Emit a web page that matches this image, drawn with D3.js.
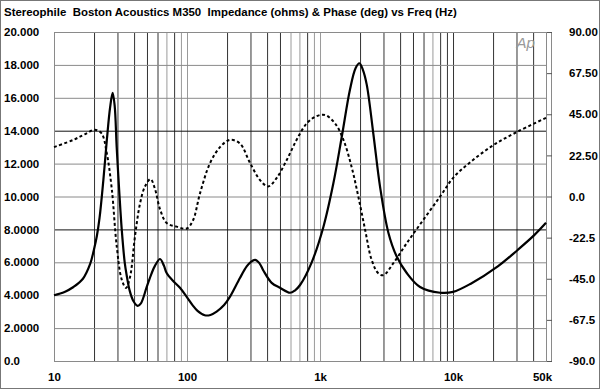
<!DOCTYPE html>
<html>
<head>
<meta charset="utf-8">
<script src="https://cdn.jsdelivr.net/npm/d3@7"></script>
<style>
  body { margin: 0; background: #fff; }
  text { font-family: "Liberation Sans", Arial, sans-serif; font-weight: bold; fill: #000; }
</style>
</head>
<body>
<svg id="chart" width="600" height="389"></svg>
<script>
// impedance magnitude (ohms) vs frequency (Hz)
const zFreqs = [10, 12, 14, 16.5, 18.7, 20, 21, 22, 23.5, 25, 26.4, 27.6, 28.6, 29.6, 31, 32.3, 34, 35.2, 37, 39.5, 42.6,
    45, 49.8, 54, 57.5, 62.7, 67, 70.3, 78.9, 88.5, 99.5, 110, 120, 136, 150, 167, 190, 210, 250, 281, 300,
    325, 350, 375, 433, 500, 595, 650, 708, 866, 1060, 1260, 1455, 1680, 1850, 1977, 2100, 2245, 2518, 2826, 3265,
    3773, 4487, 5650, 8000, 10000, 13600, 21700, 30600, 40800, 50000];
const impedance = [4.0, 4.2, 4.5, 5.0, 5.9, 6.8, 7.6, 8.7, 11, 13.5, 15.4, 16.3, 15.5, 13.0, 10.2, 8.0, 6.0, 5.2, 4.3, 3.65, 3.35,
    3.5, 4.5, 5.3, 5.8, 6.2, 5.8, 5.35, 4.85, 4.45, 3.9, 3.4, 3.05, 2.78, 2.8, 3.0, 3.4, 3.9, 5.05, 5.75, 6.0,
    6.15, 5.95, 5.5, 4.75, 4.45, 4.15, 4.3, 4.62, 6.0, 8.15, 10.8, 13.6, 16.5, 17.8, 18.1, 17.7, 16.8, 13.8, 10.6, 7.8,
    6.35, 5.35, 4.5, 4.15, 4.2, 4.7, 5.75, 6.75, 7.65, 8.4];

// phase (deg) vs frequency (Hz)
const pFreqs = [10, 14, 17, 20.3, 22.8, 24.9, 27.2, 29.6, 32.3, 34.8, 37.3, 40.6, 44.3, 48.3, 53.2, 57.5, 62.7, 70.3, 83.6, 99.5,
    111, 125, 148.5, 177, 210, 250, 297, 354, 408, 471, 562, 667, 795, 944, 1090, 1297, 1500, 1730, 1940, 2180,
    2440, 2740, 3000, 3560, 4490, 5950, 8000, 10100, 13600, 20000, 30600, 50000];
const phase = [27, 31, 34, 36.5, 34.5, 24, 4, -27, -45.5, -50, -44, -22, -4, 5.5, 9.5, 4, -7, -14.5, -16.5, -17.5,
    -13, 1.5, 18, 27, 31, 29, 18.5, 9, 5.5, 10, 20, 31, 40, 44, 44.6, 40, 31, 16, 0, -18,
    -34.5, -42, -43, -36.5, -25.5, -13, 0, 10.5, 19, 28, 35.5, 43];

const zTicks = [0, 2, 4, 6, 8, 10, 12, 14, 16, 18, 20];
const zTickLabels = ['0.0', '2.0000', '4.0000', '6.0000', '8.0000', '10.000', '12.000', '14.000', '16.000', '18.000', '20.000'];
const pTicks = [-90, -67.5, -45, -22.5, 0, 22.5, 45, 67.5, 90];
const pTickLabels = ['-90.0', '-67.5', '-45.0', '-22.5', '0.0', '22.50', '45.00', '67.50', '90.00'];
const fTicks = [10, 100, 1000, 10000, 50000];
const fTickLabels = ['10', '100', '1k', '10k', '50k'];

const title = 'Stereophile  Boston Acoustics M350  Impedance (ohms) & Phase (deg) vs Freq (Hz)';

const plotLeft = 54, plotRight = 546, frameRight = 552, plotTop = 32, plotBottom = 361,
    fontSize = 11.5;

const svg = d3.select('#chart');

const x = d3.scaleLog().domain([10, 50000]).range([plotLeft, plotRight]),
    yZ = d3.scaleLinear().domain([0, 20]).range([plotBottom, plotTop]),
    yP = d3.scaleLinear().domain([-90, 90]).range([plotBottom, plotTop]);

// outer border
svg.append('rect')
    .attr('x', 0.5).attr('y', 0.5)
    .attr('width', 599).attr('height', 388)
    .attr('fill', 'none')
    .attr('stroke', '#777');

svg.append('text')
    .attr('x', 4)
    .attr('y', 16)
    .style('font-size', '11.45px')
    .attr('xml:space', 'preserve')
    .text(title);

// vertical grid: every 1..9 per decade
let gridFreqs = [];
for (let dec = 10; dec <= 10000; dec *= 10) {
    for (let k = 1; k <= 9; k++) {
        if (dec * k <= 50000) gridFreqs.push(dec * k);
    }
}
gridFreqs = gridFreqs.filter(f => f > 10 && f < 50000);
const lightGrid = new Set([70, 90, 100, 600, 700, 900, 1000, 7000]);

const vGrid = svg.append('g')
    .attr('transform', `translate(0,${plotBottom})`)
    .call(d3.axisBottom(x).tickValues(gridFreqs).tickSize(-(plotBottom - plotTop)).tickFormat(''));
vGrid.select('.domain').remove();
vGrid.selectAll('line')
    .attr('stroke', d => lightGrid.has(d) ? '#9a9a9a' : '#333')
    .attr('stroke-width', 1);

const hGrid = svg.append('g')
    .attr('transform', `translate(${plotLeft},0)`)
    .call(d3.axisLeft(yZ).tickValues(zTicks.slice(1, -1)).tickSize(-(plotRight - plotLeft)).tickFormat(''));
hGrid.select('.domain').remove();
hGrid.selectAll('line')
    .attr('stroke', d => (d === 14 || d === 8) ? '#111' : '#8a8a8a')
    .attr('stroke-width', 1);

// frame
svg.append('rect')
    .attr('x', plotLeft + 0.5)
    .attr('y', plotTop + 0.5)
    .attr('width', frameRight - plotLeft - 1)
    .attr('height', plotBottom - plotTop)
    .attr('fill', 'none')
    .attr('stroke', '#8a8a8a');
svg.append('line')
    .attr('x1', x(50000) + 0.5).attr('x2', x(50000) + 0.5)
    .attr('y1', plotTop).attr('y2', plotBottom)
    .attr('stroke', '#8a8a8a');

// left axis labels
const zAxis = svg.append('g')
    .attr('transform', 'translate(4,0)')
    .call(d3.axisRight(yZ).tickValues(zTicks).tickFormat((d, i) => zTickLabels[i]).tickSize(0).tickPadding(0));
zAxis.select('.domain').remove();
zAxis.selectAll('text').style('font-size', fontSize + 'px').attr('font-family', null);

// right axis, ticks pointing inward
const pAxis = svg.append('g')
    .attr('transform', `translate(${frameRight},0)`)
    .call(d3.axisRight(yP).tickValues(pTicks).tickFormat((d, i) => pTickLabels[i]).tickSizeInner(-5).tickSizeOuter(0).tickPadding(17));
pAxis.select('.domain').remove();
pAxis.selectAll('line').attr('stroke', '#555');
pAxis.selectAll('text').style('font-size', fontSize + 'px').attr('font-family', null);

// bottom axis labels
const fAxis = svg.append('g')
    .attr('transform', `translate(0,${plotBottom})`)
    .call(d3.axisBottom(x).tickValues(fTicks).tickFormat((d, i) => fTickLabels[i]).tickSize(0).tickPadding(12));
fAxis.select('.domain').remove();
fAxis.selectAll('text')
    .style('font-size', fontSize + 'px')
    .attr('font-family', null)
    .attr('dx', d => d === 50000 ? -4 : 0);

// Ap logo
svg.append('text')
    .attr('x', x(30000))
    .attr('y', yP(67.5) - 25)
    .style('font-size', '15px')
    .style('font-weight', 'normal')
    .style('font-style', 'italic')
    .style('fill', '#999')
    .text('Ap');

// curves
const zLine = d3.line()
    .x((d, i) => x(zFreqs[i]))
    .y(d => yZ(d))
    .curve(d3.curveCatmullRom.alpha(0.5));

const pLine = d3.line()
    .x((d, i) => x(pFreqs[i]))
    .y(d => yP(d))
    .curve(d3.curveCatmullRom.alpha(0.5));

svg.append('path')
    .datum(phase)
    .attr('d', pLine)
    .attr('fill', 'none')
    .attr('stroke', '#000')
    .attr('stroke-width', 2)
    .attr('stroke-dasharray', '3,2.5');

svg.append('path')
    .datum(impedance)
    .attr('d', zLine)
    .attr('fill', 'none')
    .attr('stroke', '#000')
    .attr('stroke-width', 2.2);
</script>
</body>
</html>
